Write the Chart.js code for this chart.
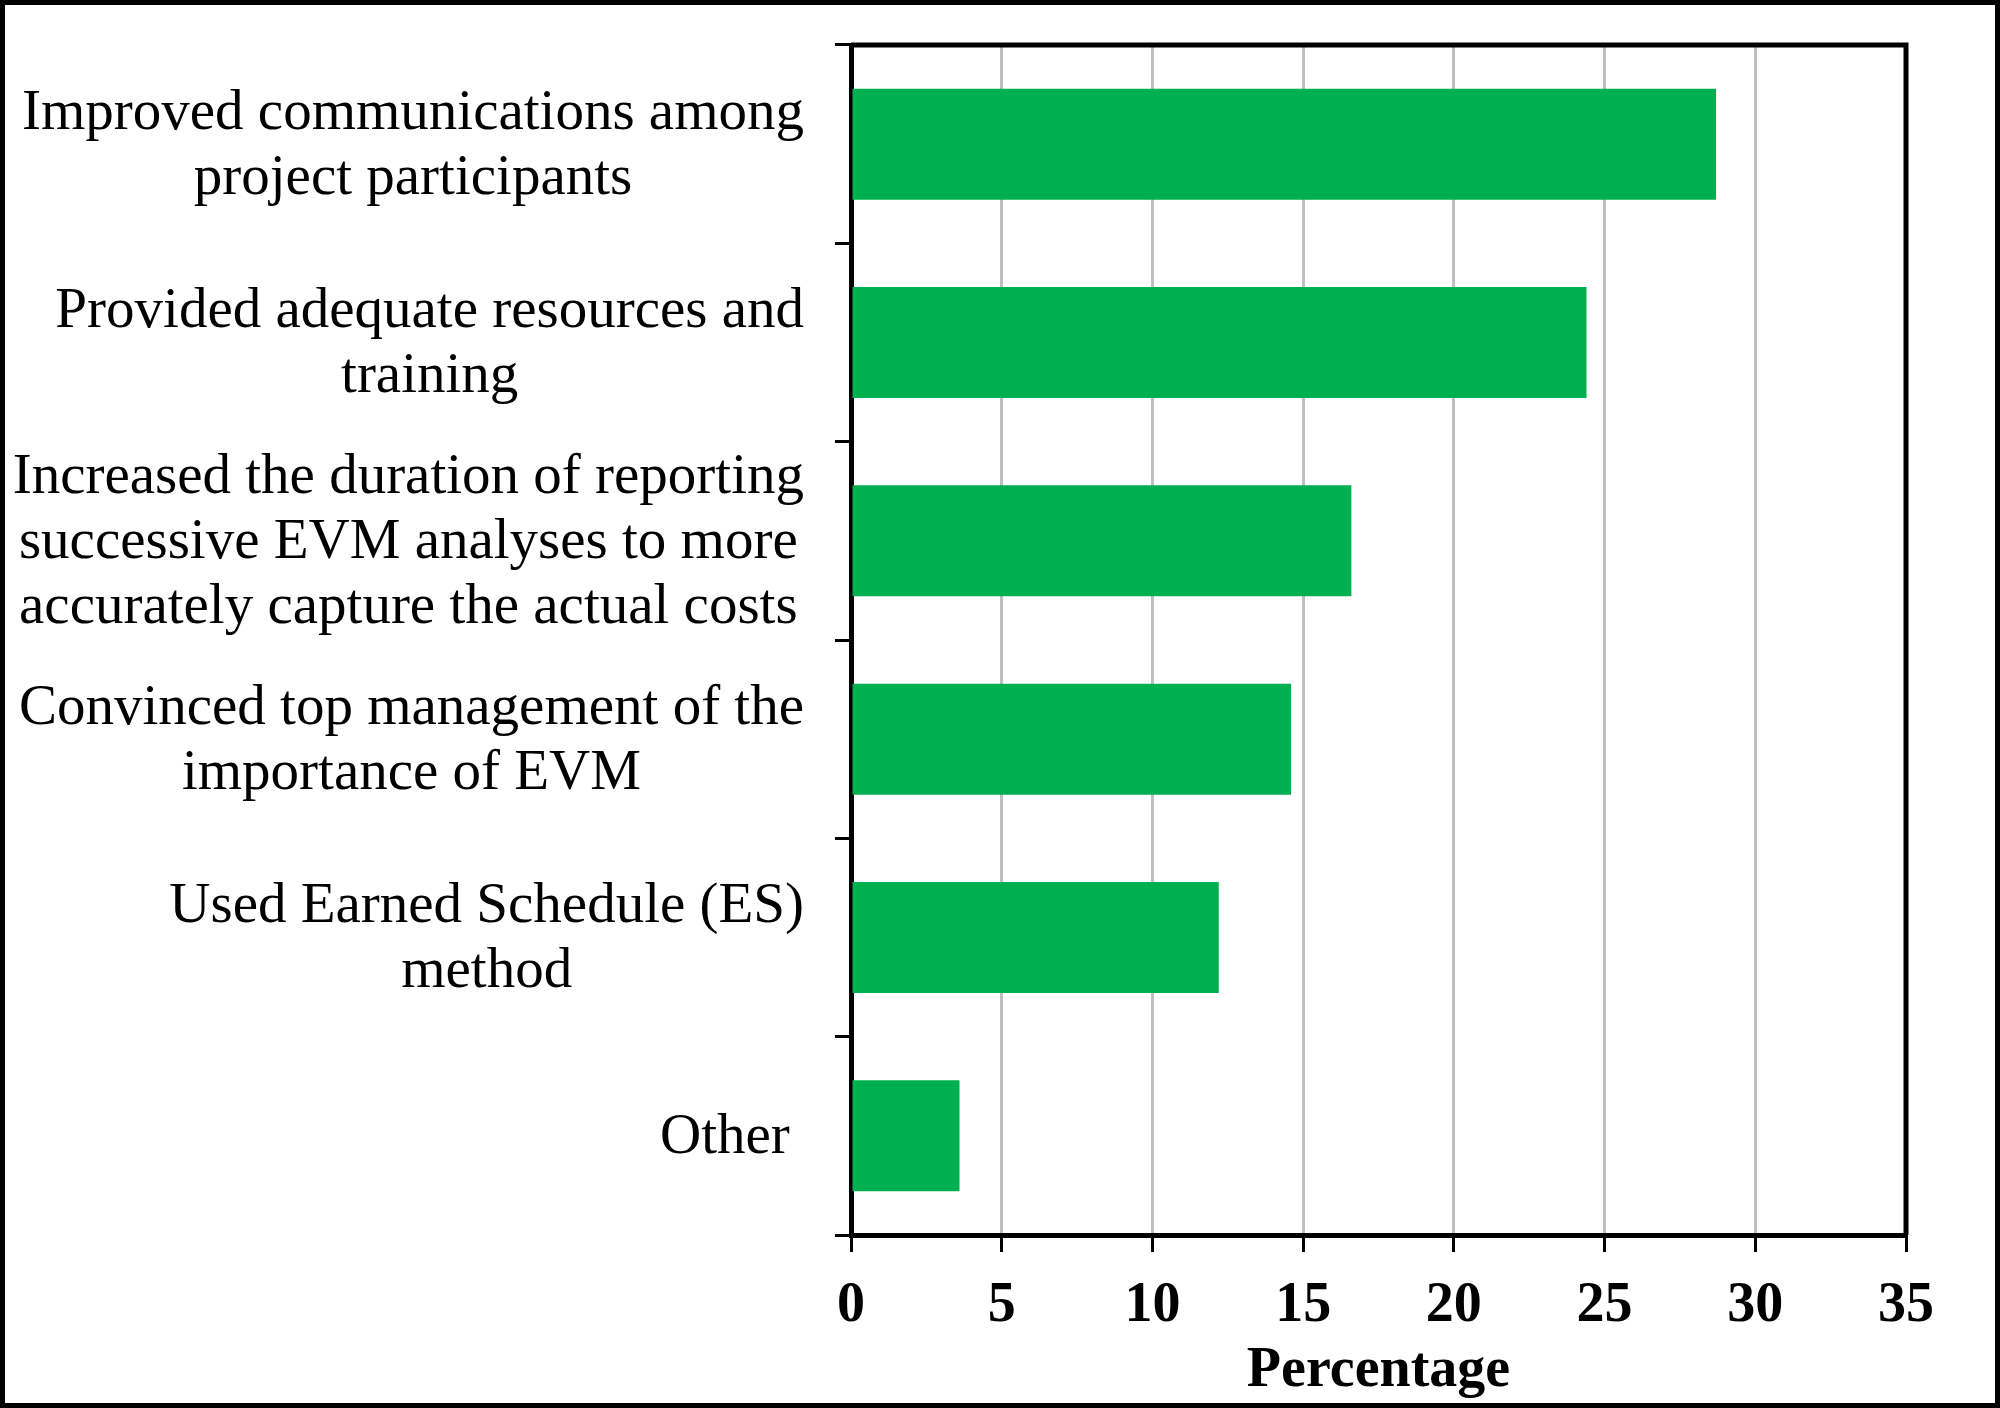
<!DOCTYPE html>
<html>
<head>
<meta charset="utf-8">
<style>
  html, body { margin: 0; padding: 0; background: #fff; }
  canvas { display: block; }
</style>
<script src="https://cdn.jsdelivr.net/npm/chart.js@4/dist/chart.umd.min.js"></script>
</head>
<body>
<canvas id="grafico" width="2000" height="1408"></canvas>
<script>
// datos
const categorias = [
    ['Improved communications among', 'project participants'],
    ['Provided adequate resources and', 'training'],
    ['Increased the duration of reporting', 'successive EVM analyses to more', 'accurately capture the actual costs'],
    ['Convinced top management of the', 'importance of EVM'],
    ['Used Earned Schedule (ES)', 'method'],
    ['Other ']
];
const porcentajes = [28.7, 24.4, 16.6, 14.6, 12.2, 3.6];
const ticksX = [0, 5, 10, 15, 20, 25, 30, 35];
const tituloX = 'Percentage';

const FUENTE = '"Liberation Serif", "Times New Roman", serif';

// fondo blanco, marco exterior y borde superior/derecho del area
const marco = {
    id: 'marco',
    beforeDraw(chart) {
        const c = chart.ctx;
        c.save();
        c.fillStyle = '#fff';
        c.fillRect(0, 0, chart.width, chart.height);
        c.restore();
    },
    afterDraw(chart) {
        const c = chart.ctx;
        const a = chart.chartArea;
        c.save();
        c.strokeStyle = '#000';
        c.lineWidth = 5;
        c.beginPath();
        c.moveTo(a.left, a.top);
        c.lineTo(a.right, a.top);
        c.lineTo(a.right, a.bottom);
        c.stroke();
        c.strokeRect(2.5, 2.5, chart.width - 5, chart.height - 5);
        c.restore();
    }
};

// etiquetas del eje y: bloques alineados a la derecha, lineas centradas
const etiquetasY = {
    id: 'etiquetasY',
    afterDraw(chart) {
        const c = chart.ctx;
        const y = chart.scales.y;
        const derecha = 804;
        const alto = 65;
        c.save();
        c.font = '57px ' + FUENTE;
        c.fillStyle = '#000';
        c.textAlign = 'center';
        c.textBaseline = 'middle';
        categorias.forEach((lineas, i) => {
            const centro = y.getPixelForValue(i) + 2;
            const ancho = Math.max(...lineas.map(l => c.measureText(l).width));
            const x = derecha - ancho / 2;
            const inicio = centro - (lineas.length - 1) * alto / 2;
            lineas.forEach((l, j) => c.fillText(l, x, inicio + j * alto));
        });
        c.restore();
    }
};

new Chart(document.getElementById('grafico'), {
    type: 'bar',
    data: {
        labels: categorias,
        datasets: [{
            data: porcentajes,
            backgroundColor: '#00b050',
            borderWidth: 0,
            barPercentage: 0.56,
            categoryPercentage: 1
        }]
    },
    options: {
        indexAxis: 'y',
        responsive: false,
        animation: false,
        devicePixelRatio: 1,
        layout: { padding: { top: 45, right: 94, left: 0, bottom: 0 } },
        plugins: { legend: { display: false }, tooltip: { enabled: false } },
        scales: {
            x: {
                min: 0,
                max: 35,
                afterFit(s) { s.height = 173; },
                afterBuildTicks(s) { s.ticks = ticksX.map(v => ({ value: v })); },
                grid: {
                    color: '#bfbfbf',
                    lineWidth: 3,
                    tickColor: '#000',
                    tickLength: 17,
                    tickWidth: 3
                },
                border: { display: true, color: '#000', width: 5 },
                ticks: {
                    color: '#000',
                    padding: 21,
                    font: { family: FUENTE, size: 56, weight: 'bold' }
                },
                title: {
                    display: true,
                    text: tituloX,
                    color: '#000',
                    padding: { top: 0, bottom: 3 },
                    font: { family: FUENTE, size: 56, weight: 'bold' }
                }
            },
            y: {
                z: 1,
                afterFit(s) { s.width = 851; },
                grid: {
                    drawOnChartArea: false,
                    tickColor: '#000',
                    tickLength: 16,
                    tickWidth: 3
                },
                border: { display: true, color: '#000', width: 5 },
                ticks: { display: false }
            }
        }
    },
    plugins: [marco, etiquetasY]
});
</script>
</body>
</html>
